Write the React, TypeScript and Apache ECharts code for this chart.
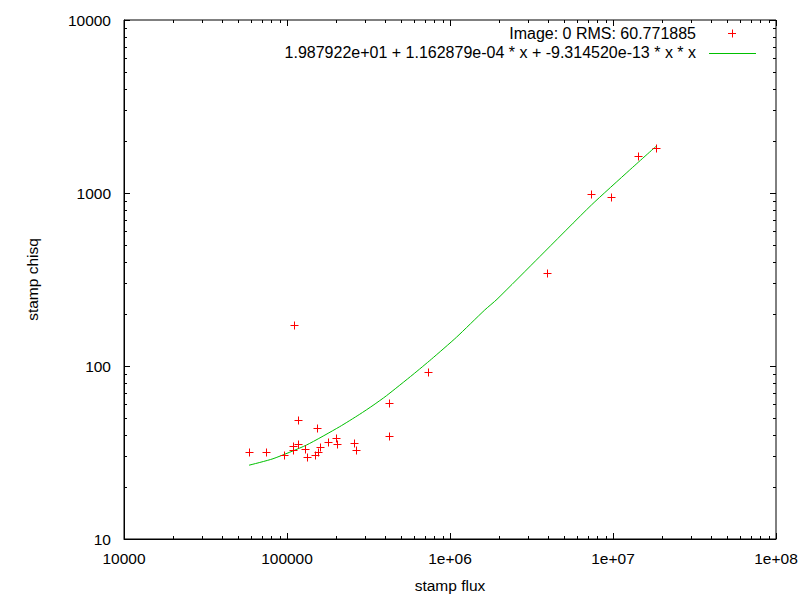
import React, { useEffect, useRef } from "react";
import * as echarts from "echarts";

// Data
const fluxValues = [
  58500, 74000, 96400, 110400, 116800, 108400, 108400, 116800, 129700, 132700,
  152800, 159400, 155800, 148500, 178400, 198900, 202600, 256600, 265000,
  422600, 422600, 729900, 3958000, 7298000, 9720000, 14170000, 18350000,
];
const chisqValues = [
  31.7, 31.7, 30.5, 171.9, 48.7, 34.6, 32.7, 35.3, 33.0, 29.8,
  43.8, 34.0, 31.8, 30.5, 36.2, 38.4, 35.3, 35.9, 32.6,
  60.9, 39.4, 92.3, 343.5, 986.7, 944, 1636, 1820,
];
const fitFlux = [
  58470, 82060, 131500, 210600, 279300, 337100, 407300, 593000, 769000,
  1094700, 1633000, 1942000, 3550000, 7370000, 12660000, 18460000,
];
const fitChisq = [
  26.7, 29.1, 34.9, 44.6, 52.6, 59.2, 67.3, 89.3, 109.5,
  146.5, 210.7, 243, 428.3, 852, 1358, 1869,
];

const xTickValues = [1e4, 1e5, 1e6, 1e7, 1e8];
const xTickLabels = ["10000", "100000", "1e+06", "1e+07", "1e+08"];
const yTickValues = [10, 100, 1000, 10000];
const yTickLabels = ["10", "100", "1000", "10000"];
const minorMultipliers = [2, 3, 4, 5, 6, 7, 8, 9];

const pointsLabel = "Image: 0 RMS: 60.771885";
const fitLabel = "1.987922e+01 + 1.162879e-04 * x + -9.314520e-13 * x * x";

const FONT = "'Liberation Sans', Arial, sans-serif";
const FS = 15.5;
const LFS = 16;

export default function App() {
  const ref = useRef<HTMLDivElement>(null);
  useEffect(() => {
    if (!ref.current) return;
    const chart = echarts.init(ref.current, null, { renderer: "svg" });
    const xMin = xTickValues[0];
    const xMax = xTickValues[xTickValues.length - 1];
    const yMin = yTickValues[0];
    const yMax = yTickValues[yTickValues.length - 1];

    const xMinor: number[] = [];
    for (let i = 0; i < xTickValues.length - 1; i++)
      minorMultipliers.forEach((m) => xMinor.push(xTickValues[i] * m));
    const yMinor: number[] = [];
    for (let i = 0; i < yTickValues.length - 1; i++)
      minorMultipliers.forEach((m) => yMinor.push(yTickValues[i] * m));

    const labelFor = (vals: number[], labels: string[]) => (v: number) => {
      let best = 0;
      let bd = Infinity;
      vals.forEach((t, i) => {
        const d = Math.abs(Math.log10(t) - Math.log10(v));
        if (d < bd) {
          bd = d;
          best = i;
        }
      });
      return labels[best];
    };

    const tickStyle = { stroke: "#000", lineWidth: 1 };
    const red = "#ff0000";

    chart.setOption({
      animation: false,
      backgroundColor: "#fff",
      textStyle: { fontFamily: FONT },
      grid: {
        left: 124,
        right: 24,
        top: 20,
        bottom: 61,
        show: true,
        borderColor: "#000",
        borderWidth: 1,
        outerBoundsMode: "none",
      },
      xAxis: {
        type: "log",
        logBase: 10,
        min: xMin,
        max: xMax,
        name: "stamp flux",
        nameLocation: "middle",
        nameGap: 38,
        nameTextStyle: { color: "#000", fontSize: FS, fontFamily: FONT },
        axisLine: { show: true, lineStyle: { color: "#000", width: 1 } },
        axisTick: { show: false },
        minorTick: { show: false },
        splitLine: { show: false },
        axisLabel: {
          color: "#000",
          fontSize: FS,
          fontFamily: FONT,
          margin: 11,
          formatter: labelFor(xTickValues, xTickLabels),
          showMinLabel: true,
          showMaxLabel: true,
        },
      },
      yAxis: {
        type: "log",
        logBase: 10,
        min: yMin,
        max: yMax,
        name: "stamp chisq",
        nameLocation: "middle",
        nameGap: 84,
        nameTextStyle: { color: "#000", fontSize: FS, fontFamily: FONT },
        axisLine: { show: true, lineStyle: { color: "#000", width: 1 } },
        axisTick: { show: false },
        minorTick: { show: false },
        splitLine: { show: false },
        axisLabel: {
          color: "#000",
          fontSize: FS,
          fontFamily: FONT,
          margin: 13,
          formatter: labelFor(yTickValues, yTickLabels),
          showMinLabel: true,
          showMaxLabel: true,
        },
      },
      series: [
        {
          type: "custom",
          silent: true,
          clip: false,
          data: [[1e5, 100]],
          z: 5,
          renderItem: (params: any, api: any) => {
            const children: any[] = [];
            const addX = (v: number, len: number) => {
              const b = api.coord([v, yMin]);
              const t = api.coord([v, yMax]);
              const x = Math.round(b[0]) + 0.5;
              children.push({ type: "line", shape: { x1: x, y1: b[1], x2: x, y2: b[1] - len }, style: tickStyle });
              children.push({ type: "line", shape: { x1: x, y1: t[1], x2: x, y2: t[1] + len }, style: tickStyle });
            };
            const addY = (v: number, len: number) => {
              const l = api.coord([xMin, v]);
              const r = api.coord([xMax, v]);
              const y = Math.round(l[1]) + 0.5;
              children.push({ type: "line", shape: { x1: l[0], y1: y, x2: l[0] + len, y2: y }, style: tickStyle });
              children.push({ type: "line", shape: { x1: r[0], y1: y, x2: r[0] - len, y2: y }, style: tickStyle });
            };
            xTickValues.forEach((v) => addX(v, 6));
            xMinor.forEach((v) => addX(v, 3));
            yTickValues.forEach((v) => addY(v, 6));
            yMinor.forEach((v) => addY(v, 3));
            return { type: "group", children };
          },
        },
        {
          type: "line",
          name: fitLabel,
          data: fitFlux.map((x, i) => [x, fitChisq[i]]),
          showSymbol: false,
          smooth: 0.2,
          lineStyle: { color: "#00c000", width: 1 },
          z: 3,
        },
        {
          type: "custom",
          name: pointsLabel,
          data: fluxValues.map((x, i) => [x, chisqValues[i]]),
          z: 4,
          renderItem: (params: any, api: any) => {
            const p = api.coord([api.value(0), api.value(1)]);
            const cx = Math.round(p[0]) + 0.5;
            const cy = Math.round(p[1]) + 0.5;
            const st = { stroke: red, lineWidth: 1 };
            return {
              type: "group",
              children: [
                { type: "line", shape: { x1: cx - 4, y1: cy, x2: cx + 4, y2: cy }, style: st },
                { type: "line", shape: { x1: cx, y1: cy - 4, x2: cx, y2: cy + 4 }, style: st },
              ],
            };
          },
        },
      ],
      graphic: [
        {
          type: "text",
          x: 696,
          y: 33.5,
          style: {
            text: pointsLabel,
            fill: "#000",
            font: `${LFS}px ${FONT}`,
            textAlign: "right",
            textVerticalAlign: "middle",
          },
        },
        { type: "line", shape: { x1: 728, y1: 33.5, x2: 736, y2: 33.5 }, style: { stroke: red, lineWidth: 1 } },
        { type: "line", shape: { x1: 732.5, y1: 29.5, x2: 732.5, y2: 37.5 }, style: { stroke: red, lineWidth: 1 } },
        {
          type: "text",
          x: 696,
          y: 52.5,
          style: {
            text: fitLabel,
            fill: "#000",
            font: `${LFS}px ${FONT}`,
            textAlign: "right",
            textVerticalAlign: "middle",
          },
        },
        { type: "line", shape: { x1: 709, y1: 53.5, x2: 756, y2: 53.5 }, style: { stroke: "#00c000", lineWidth: 1 } },
      ],
    });
    return () => chart.dispose();
  }, []);
  return (
    <div
      ref={ref}
      style={{ position: "absolute", left: 0, top: 0, width: 800, height: 600, background: "#fff" }}
    />
  );
}
